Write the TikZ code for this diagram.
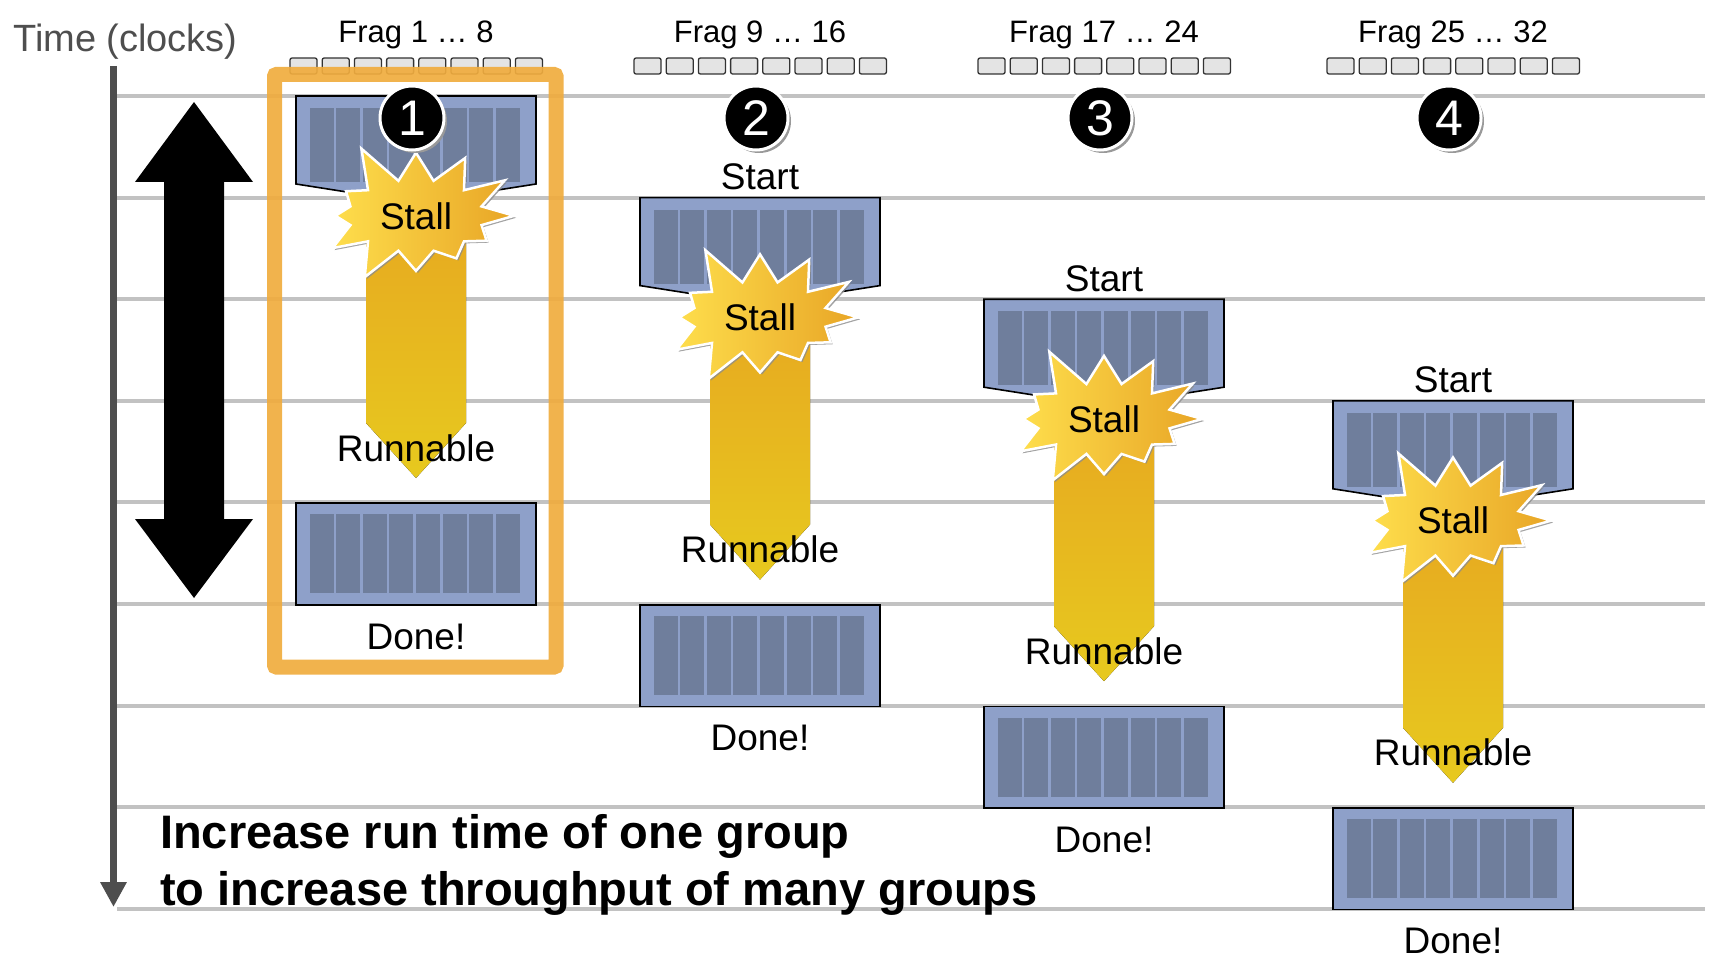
\documentclass[tikz,border=0pt]{standalone}
\usepackage{fontspec}
\setmainfont{Liberation Sans}
\usetikzlibrary{arrows.meta,shapes.symbols,shadows}
\definecolor{gridgray}{RGB}{194,194,194}
\definecolor{axisgray}{RGB}{78,78,78}
\definecolor{warpblue}{RGB}{142,160,201}
\definecolor{laneblue}{RGB}{111,126,156}
\definecolor{fragfill}{RGB}{228,228,228}
\definecolor{hiorange}{RGB}{240,172,62}
\definecolor{runtop}{RGB}{231,166,33}
\definecolor{runbot}{RGB}{231,201,30}
\definecolor{stallyellow}{RGB}{254,222,76}
\definecolor{stallorange}{RGB}{232,165,38}
\begin{document}
\begin{tikzpicture}[x=1pt,y=-1pt,
  lbl/.style={anchor=base,inner sep=0pt,font=\fontsize{37}{40}\selectfont},
  fraglbl/.style={anchor=base,inner sep=0pt,font=\fontsize{31}{34}\selectfont},
  fragbox/.style={draw=black!80,fill=fragfill,line width=1.3pt,rounded corners=2pt},
  warp/.style={draw=black,fill=warpblue,line width=1.6pt},
  lane/.style={fill=laneblue},
  runarrow/.style={top color=runtop,bottom color=runbot},
  stall/.style={starburst,starburst points=12,starburst point height=44pt,random starburst=5,
    anchor=base,inner xsep=12pt,inner ysep=12pt,left color=stallyellow,right color=stallorange,
    draw=white,line width=2.5pt,font=\fontsize{37}{40}\selectfont,
    drop shadow={shadow xshift=2pt,shadow yshift=-2pt,fill=black!45,opacity=.8}},
  num/.style={circle,fill=black,draw=white,line width=3pt,text=white,minimum size=64pt,inner sep=0pt,
    font=\fontsize{50}{50}\selectfont,
    drop shadow={shadow xshift=3pt,shadow yshift=-3pt,fill=black!40,opacity=1}}]
\useasboundingbox (0,0) rectangle (1722,963);
% time grid
\foreach \i in {0,...,8}
  \draw[gridgray,line width=4pt] (117,{96+101.6*\i}) -- (1705,{96+101.6*\i});
\node[anchor=base west,inner sep=0pt,text=axisgray,font=\fontsize{38}{40}\selectfont] (time) at (13,52) {Time (clocks)};
\coordinate (ttop) at (113.5,66);
\coordinate (tbot) at (113.5,907);
\draw[axisgray,line width=7pt,-{Triangle[length=25pt,width=25pt]}] (ttop) -- (tbot);
% latency arrow
\fill (194,102) -- (253,182) -- (224,182) -- (224,519) -- (253,519) -- (194,598)
  -- (135,519) -- (164,519) -- (164,182) -- (135,182) -- cycle;
% groups
\foreach \cx/\row/\first/\last [count=\n] in {416/0/1/8,760/1/9/16,1104/2/17/24,1453/3/25/32}{
  \pgfmathsetmacro{\ty}{96+101.6*\row}
  \node[fraglbl] (frag\n) at (\cx,43) {Frag \first\ … \last};
  \foreach \j in {0,...,7}
    \draw[fragbox] ({\cx-126+32.2*\j},58) rectangle +(27,16);
  \fill[runarrow] (\cx-50,\ty+95) -- (\cx+50,\ty+95) -- (\cx+50,\ty+327) -- (\cx,\ty+382) -- (\cx-50,\ty+327) -- cycle;
  \draw[warp] (\cx-120,\ty) -- (\cx+120,\ty) -- (\cx+120,\ty+88) -- (\cx+50,\ty+99) -- (\cx-50,\ty+99) -- (\cx-120,\ty+88) -- cycle;
  \foreach \j in {0,...,7}
    \fill[lane] ({\cx-106.5+26.6*\j},\ty+12) rectangle +(24,74);
  \node[stall] (stall\n) at (\cx,\ty+133) {Stall};
  \node[lbl] (run\n) at (\cx,\ty+365) {Runnable};
  \node[warp,minimum width=240pt,minimum height=101.6pt,anchor=north] (done\n) at (\cx,\ty+406.4) {};
  \foreach \j in {0,...,7}
    \fill[lane] ({\cx-106.5+26.6*\j},\ty+418.4) rectangle +(24,79);
  \node[lbl] (fin\n) at (\cx,\ty+553) {Done!};
  \ifnum\n>1 \node[lbl] (start\n) at (\cx,\ty-8) {Start};\fi
  \node[num] (num\n) at (\cx-4,118) {\n};
}
% highlighted group
\draw[hiorange,draw opacity=.92,line width=15pt,rounded corners=2pt] (274.5,74.5) rectangle (556,667);
\node[anchor=base west,inner sep=0pt,font=\bfseries\fontsize{47}{50}\selectfont] (note1) at (160,848) {Increase run time of one group};
\node[anchor=base west,inner sep=0pt,font=\bfseries\fontsize{47}{50}\selectfont] (note2) at (160,905) {to increase throughput of many groups};
\end{tikzpicture}
\end{document}
